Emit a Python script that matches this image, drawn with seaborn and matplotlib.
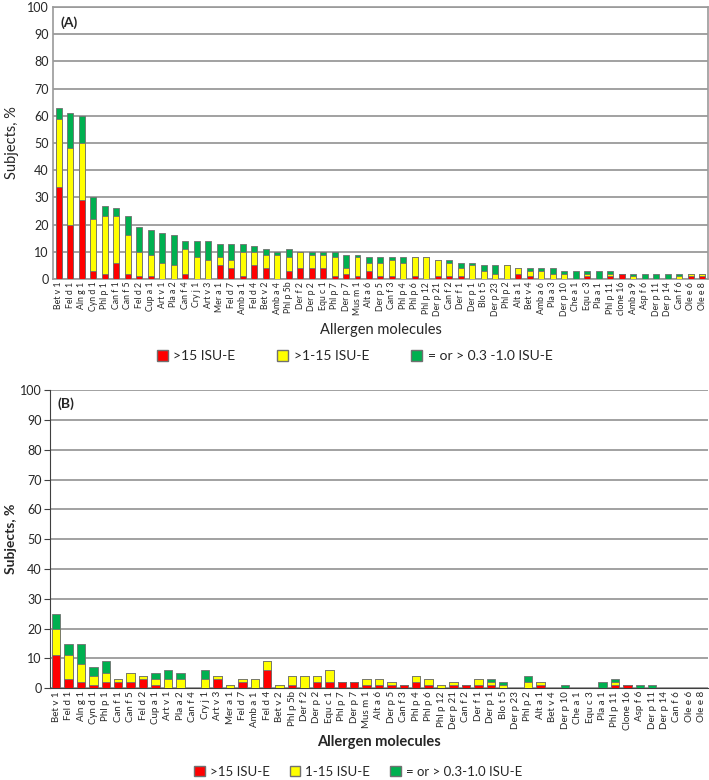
import pandas as pd
import matplotlib.pyplot as plt
from matplotlib.patches import Patch
import seaborn as sns

# --- Data ---
A_LABELS = ['Bet v 1', 'Fel d 1', 'Aln g 1', 'Cyn d 1', 'Phl p 1', 'Can f 1', 'Can f 5', 'Fel d 2',
            'Cup a 1', 'Art v 1', 'Pla a 2', 'Can f 4', 'Cry j 1', 'Art v 3', 'Mer a 1', 'Fel d 7',
            'Amb a 1', 'Fel d 4', 'Bet v 2', 'Amb a 4', 'Phl p 5b', 'Der f 2', 'Der p 2', 'Equ c 1',
            'Phl p 7', 'Der p 7', 'Mus m 1', 'Alt a 6', 'Der p 5', 'Can f 3', 'Phl p 4', 'Phl p 6',
            'Phl p 12', 'Der p 21', 'Can f 2', 'Der f 1', 'Der p 1', 'Blo t 5', 'Der p 23', 'Phl p 2',
            'Alt a 1', 'Bet v 4', 'Amb a 6', 'Pla a 3', 'Der p 10', 'Che a 1', 'Equ c 3', 'Pla a 1',
            'Phl p 11', 'clone 16', 'Amb a 9', 'Asp f 6', 'Der p 11', 'Der p 14', 'Can f 6', 'Ole e 6',
            'Ole e 8']
A_HIGH = [34, 20, 29, 3, 2, 6, 2, 1, 1, 0, 0, 2, 0, 0, 5, 4, 1, 5, 4, 0, 3, 4, 4, 4, 1, 2, 1, 3, 1,
          1, 0, 1, 0, 1, 1, 1, 0, 0, 0, 0, 2, 1, 0, 0, 0, 0, 1, 0, 1, 2, 0, 0, 0, 0, 0, 1, 1]
A_MID = [25, 28, 21, 19, 21, 17, 14, 9, 8, 6, 5, 9, 8, 7, 3, 3, 9, 5, 5, 9, 5, 6, 5, 5, 7, 2, 7, 3, 5,
         6, 6, 7, 8, 6, 5, 3, 5, 3, 2, 5, 2, 2, 3, 2, 2, 0, 1, 0, 1, 0, 1, 0, 0, 0, 1, 1, 1]
A_LOW = [4, 13, 10, 8, 4, 3, 7, 9, 9, 11, 11, 3, 6, 7, 5, 6, 3, 2, 2, 1, 3, 0, 1, 1, 2, 5, 1, 2, 2,
         1, 2, 0, 0, 0, 1, 2, 1, 2, 3, 0, 0, 1, 1, 2, 1, 3, 1, 3, 1, 0, 1, 2, 2, 2, 1, 0, 0]

B_LABELS = ['Bet v 1', 'Fel d 1', 'Aln g 1', 'Cyn d 1', 'Phl p 1', 'Can f 1', 'Can f 5', 'Fel d 2',
            'Cup a 1', 'Art v 1', 'Pla a 2', 'Can f 4', 'Cry j 1', 'Art v 3', 'Mer a 1', 'Fel d 7',
            'Amb a 1', 'Fel d 4', 'Bet v 2', 'Phl p 5b', 'Der f 2', 'Der p 2', 'Equ c 1', 'Phl p 7',
            'Der p 7', 'Mus m 1', 'Alt a 6', 'Der p 5', 'Can f 3', 'Phl p 4', 'Phl p 6', 'Phl p 12',
            'Der p 21', 'Can f 2', 'Der f 1', 'Der p 1', 'Blo t 5', 'Der p 23', 'Phl p 2', 'Alt a 1',
            'Bet v 4', 'Der p 10', 'Che a 1', 'Equ c 3', 'Pla a 1', 'Phl p 11', 'Clone 16', 'Asp f 6',
            'Der p 11', 'Der p 14', 'Can f 6', 'Ole e 6', 'Ole e 8']
B_HIGH = [11, 3, 2, 1, 2, 2, 2, 3, 1, 0, 0, 0, 0, 3, 0, 2, 0, 6, 0, 1, 0, 2, 2, 2, 2, 1, 1, 1, 1,
          2, 1, 0, 1, 1, 1, 1, 0, 0, 0, 1, 0, 0, 0, 0, 0, 1, 1, 0, 0, 0, 0, 0, 0]
B_MID = [9, 8, 6, 3, 3, 1, 3, 1, 2, 3, 3, 0, 3, 1, 1, 1, 3, 3, 1, 3, 4, 2, 4, 0, 0, 2, 2, 1, 0,
         2, 2, 1, 1, 0, 2, 1, 1, 0, 2, 1, 0, 0, 0, 0, 0, 1, 0, 0, 0, 0, 0, 0, 0]
B_LOW = [5, 4, 7, 3, 4, 0, 0, 0, 2, 3, 2, 0, 3, 0, 0, 0, 0, 0, 0, 0, 0, 0, 0, 0, 0, 0, 0, 0, 0,
         0, 0, 0, 0, 0, 0, 1, 1, 0, 2, 0, 0, 1, 0, 0, 2, 1, 0, 1, 1, 0, 0, 0, 0]

RED, YELLOW, GREEN = '#FF0000', '#FFFF00', '#00B050'
EDGE = '#707070'
GRID = '#9a9a9a'

sns.set_style('white')
plt.rcParams['font.family'] = ['Lato', 'DejaVu Sans']


def stacked(ax, labels, high, mid, low, width):
    df = pd.DataFrame({'molecule': labels, 'high': high, 'mid': mid, 'low': low})
    df['upto_mid'] = df['high'] + df['mid']
    df['total'] = df['upto_mid'] + df['low']
    kw = dict(x='molecule', width=width, edgecolor=EDGE, linewidth=0.6, saturation=1, ax=ax, zorder=3)
    sns.barplot(data=df, y='total', color=GREEN, **kw)
    sns.barplot(data=df, y='upto_mid', color=YELLOW, **kw)
    sns.barplot(data=df, y='high', color=RED, **kw)
    ax.set_xlim(-0.5, len(labels) - 0.5)
    ax.set_ylim(0, 100)
    ax.set_yticks(range(0, 101, 10))
    ax.yaxis.grid(True, color=GRID, linewidth=1.3, zorder=0)
    ax.set_axisbelow(True)


fig = plt.figure(figsize=(7.09, 7.80), dpi=100)

# --- Panel A ---
axA = fig.add_axes([0.0748, 0.6423, 0.9237, 0.3487])
stacked(axA, A_LABELS, A_HIGH, A_MID, A_LOW, 0.52)
for s in axA.spines.values():
    s.set_color(GRID)
    s.set_linewidth(1.2)
axA.tick_params(axis='x', labelsize=6.3, rotation=90, length=0, pad=2)
axA.tick_params(axis='y', labelsize=9, length=0, pad=3)
axA.set_xlabel('Allergen molecules', fontsize=10.5, labelpad=5)
axA.set_ylabel('Subjects, %', fontsize=10.5, labelpad=6)
axA.text(0.012, 0.965, '(A)', transform=axA.transAxes, fontsize=10, fontweight='bold', va='top')

handlesA = [Patch(facecolor=RED, edgecolor=EDGE, label='>15 ISU-E'),
            Patch(facecolor=YELLOW, edgecolor=EDGE, label='>1-15 ISU-E'),
            Patch(facecolor=GREEN, edgecolor=EDGE, label='= or > 0.3 -1.0 ISU-E')]
fig.legend(handles=handlesA, loc='center', bbox_to_anchor=(0.5, 1 - 356 / 780), ncol=3,
           frameon=False, fontsize=10, handlelength=0.8, handleheight=0.8, columnspacing=3.0,
           handletextpad=0.4)

# --- Panel B ---
axB = fig.add_axes([0.0705, 0.1176, 0.9281, 0.382])
stacked(axB, B_LABELS, B_HIGH, B_MID, B_LOW, 0.68)
sns.despine(ax=axB, top=True, right=True)
axB.spines['left'].set_color('#404040')
axB.spines['bottom'].set_color('#404040')
axB.set_xticks([i + 0.5 for i in range(-1, len(B_LABELS))], minor=True)
axB.tick_params(axis='x', which='minor', length=4, color='#404040')
axB.tick_params(axis='x', which='major', labelsize=7, rotation=90, length=0, pad=2)
axB.tick_params(axis='y', labelsize=9, length=4, left=True, color='#404040', pad=2)
axB.set_xlabel('Allergen molecules', fontsize=10.5, fontweight='bold', labelpad=4)
axB.set_ylabel('Subjects, %', fontsize=10, fontweight='bold', labelpad=2)
axB.text(0.012, 0.975, '(B)', transform=axB.transAxes, fontsize=10, fontweight='bold', va='top')

handlesB = [Patch(facecolor=RED, edgecolor=EDGE, label='>15 ISU-E'),
            Patch(facecolor=YELLOW, edgecolor=EDGE, label='1-15 ISU-E'),
            Patch(facecolor=GREEN, edgecolor=EDGE, label='= or > 0.3-1.0 ISU-E')]
fig.legend(handles=handlesB, loc='center', bbox_to_anchor=(0.505, 1 - 772 / 780), ncol=3,
           frameon=False, fontsize=9.5, handlelength=0.8, handleheight=0.8, columnspacing=1.5,
           handletextpad=0.4)

fig.savefig('out.png', dpi=100)
